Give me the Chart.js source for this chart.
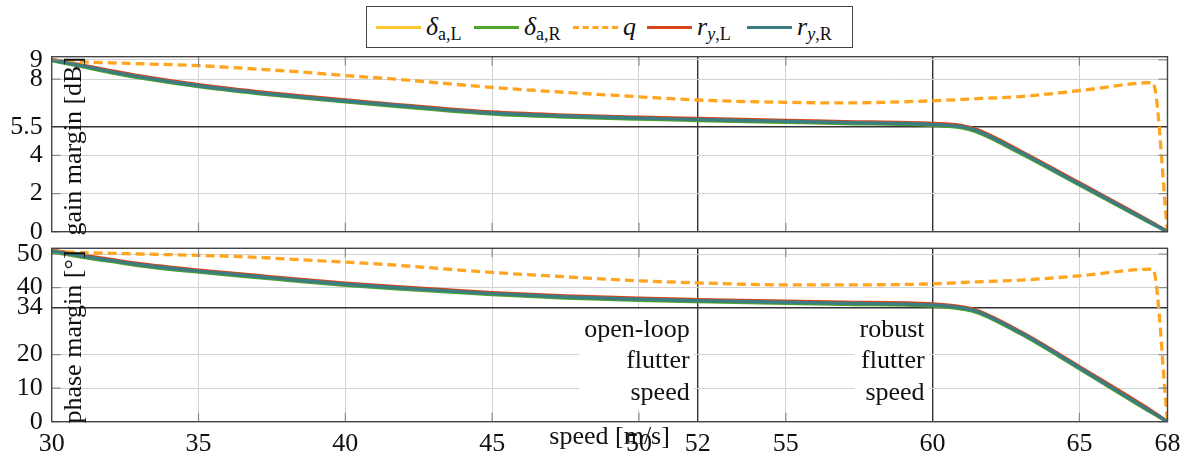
<!DOCTYPE html>
<html>
<head>
<meta charset="utf-8">
<script src="https://cdn.jsdelivr.net/npm/chart.js@4.4.1/dist/chart.umd.min.js"></script>
<style>
  body { margin: 0; background: #fff; }
  #wrap { position: relative; width: 1187px; height: 457px; overflow: hidden;
          font-family: 'Liberation Serif', 'DejaVu Serif', serif; color: #111; }
  #gainBox { position: absolute; left: 0; top: 0; width: 1187px; height: 250px; }
  #phaseBox { position: absolute; left: 0; top: 236px; width: 1187px; height: 221px; }
  #legend { position: absolute; left: 366px; top: 6px; width: 487px; height: 42px;
            border: 1px solid #444; background: #fff; display: flex; align-items: center;
            padding-left: 9px; box-sizing: border-box; font-size: 26px; z-index: 2; }
  #legend .key { display: flex; align-items: center; white-space: nowrap; }
  #legend .swatch { width: 45px; height: 0; border-top: 3px solid; margin-right: 5px; flex: none; }
  #legend .swatch.dash { border-top-style: dashed; }
  #legend sub { font-size: 18px; vertical-align: -5px; line-height: 0; }
</style>
</head>
<body>
<div id="wrap">
  <div id="legend"></div>
  <div id="gainBox"><canvas id="gain"></canvas></div>
  <div id="phaseBox"><canvas id="phase"></canvas></div>
</div>
<script>
// airspeed samples [m/s]
const speed = [30, 31, 32, 33, 35, 37, 38.5, 40, 41.5, 45, 47.5, 50, 52, 55, 57, 60, 61, 61.5, 63, 65, 67.5, 68];

// gain margin [dB] per loop-breaking point
const gainDaL = [8.99, 8.68, 8.37, 8.09, 7.63, 7.27, 7.04, 6.83, 6.63, 6.20, 6.04, 5.93, 5.86, 5.76, 5.70, 5.60, 5.48, 5.28, 4.14, 2.48, 0.41, 0.00];
const gainDaR = [8.97, 8.66, 8.34, 8.06, 7.60, 7.24, 7.01, 6.80, 6.60, 6.17, 6.01, 5.90, 5.83, 5.73, 5.67, 5.57, 5.44, 5.23, 4.10, 2.45, 0.39, 0.00];
const gainQ   = [9.00, 8.90, 8.85, 8.80, 8.70, 8.52, 8.37, 8.18, 8.02, 7.56, 7.30, 7.07, 6.90, 6.78, 6.75, 6.86, 6.93, 6.97, 7.08, 7.39, 7.81, 0.00];
const gainRyL = [9.03, 8.74, 8.44, 8.16, 7.70, 7.34, 7.11, 6.90, 6.70, 6.27, 6.11, 6.00, 5.93, 5.83, 5.77, 5.67, 5.56, 5.36, 4.22, 2.56, 0.46, 0.00];
const gainRyR = [9.00, 8.70, 8.39, 8.11, 7.65, 7.29, 7.06, 6.85, 6.65, 6.22, 6.06, 5.95, 5.88, 5.78, 5.72, 5.62, 5.50, 5.30, 4.16, 2.50, 0.42, 0.00];

// phase margin [deg]
const phaseDaL = [50.8, 49.3, 48.0, 46.7, 44.8, 43.2, 42.0, 40.9, 40.0, 38.1, 37.1, 36.4, 36.0, 35.5, 35.2, 34.7, 33.8, 32.8, 26.4, 16.0, 2.6, 0.0];
const phaseDaR = [50.6, 49.1, 47.8, 46.5, 44.6, 43.0, 41.8, 40.7, 39.8, 37.9, 36.9, 36.2, 35.8, 35.3, 35.0, 34.5, 33.6, 32.6, 26.2, 15.8, 2.5, 0.0];
const phaseQ   = [50.9, 50.4, 50.2, 50.0, 49.6, 49.0, 48.3, 47.6, 46.8, 44.5, 43.2, 42.0, 41.4, 40.8, 40.8, 41.1, 41.5, 41.7, 42.2, 43.5, 45.5, 0.0];
const phaseRyL = [51.2, 49.7, 48.4, 47.1, 45.2, 43.6, 42.4, 41.3, 40.4, 38.5, 37.5, 36.8, 36.4, 35.9, 35.6, 35.1, 34.2, 33.2, 26.8, 16.4, 3.0, 0.0];
const phaseRyR = [50.9, 49.4, 48.1, 46.8, 44.9, 43.3, 42.1, 41.0, 40.1, 38.2, 37.2, 36.5, 36.1, 35.6, 35.3, 34.8, 33.9, 32.9, 26.5, 16.1, 2.7, 0.0];

const speedTicks = [30, 35, 40, 45, 50, 52, 55, 60, 65, 68];
const gainTicks = [0, 2, 4, 5.5, 8, 9];
const phaseTicks = [0, 10, 20, 34, 40, 50];
const flutterSpeeds = [52, 60];
const gainReq = 5.5;
const phaseReq = 34;

const seriesLabels = ['<i>δ</i><sub>a,L</sub>', '<i>δ</i><sub>a,R</sub>', '<i>q</i>',
                      '<i>r</i><sub><i>y</i>,L</sub>', '<i>r</i><sub><i>y</i>,R</sub>'];
const seriesColors = ['#fcc62c', '#4fa529', '#ffa520', '#d8441b', '#3b7d81'];
const seriesDashed = [false, false, true, false, false];
const seriesOrder = [4, 3, 1, 2, 0];
const legendKeyWidths = [98, 99, 74, 100, 95];

Chart.defaults.font.family = "'Liberation Serif', 'DejaVu Serif', serif";
Chart.defaults.font.size = 26;
Chart.defaults.color = '#111';

// legend above both plots
document.getElementById('legend').innerHTML = seriesLabels.map((lbl, i) =>
  '<span class="key" style="width:' + legendKeyWidths[i] + 'px"><span class="swatch' +
  (seriesDashed[i] ? ' dash' : '') + '" style="border-top-color:' + seriesColors[i] +
  '"></span><span>' + lbl + '</span></span>'
).join('');

function makeSets(values) {
  return values.map((vals, i) => ({
    data: speed.map((s, k) => ({ x: s, y: vals[k] })),
    borderColor: seriesColors[i],
    borderWidth: seriesDashed[i] ? 3.3 : 3.4,
    borderDash: seriesDashed[i] ? [9, 5] : [],
    pointRadius: 0,
    cubicInterpolationMode: 'monotone',
    order: seriesOrder[i]
  }));
}

// frame, inner tick marks, rotated y title, notes
const decor = {
  id: 'decor',
  beforeDatasetsDraw(chart, args, opts) {
    const { ctx, scales } = chart;
    if (!opts.notes) return;
    ctx.save();
    ctx.font = "26px 'Liberation Serif'";
    ctx.textAlign = 'right';
    ctx.textBaseline = 'alphabetic';
    const yRef = scales.y.getPixelForValue(phaseReq);
    opts.notes.forEach(n => {
      const right = scales.x.getPixelForValue(n.at) - 8;
      const w = Math.max(...n.lines.map(t => ctx.measureText(t).width));
      ctx.fillStyle = '#fff';
      ctx.fillRect(right - w - 5, yRef + 1.5, w + 9, 101);
      ctx.fillStyle = '#111';
      n.lines.forEach((t, j) => ctx.fillText(t, right, yRef + 29 + j * 31.7));
    });
    ctx.restore();
  },
  afterDraw(chart, args, opts) {
    const { ctx, chartArea: a, scales } = chart;
    ctx.save();
    ctx.strokeStyle = '#8c8c8c';
    ctx.lineWidth = 1.2;
    ctx.beginPath();
    scales.x.ticks.forEach(t => {
      if (t.value <= 30 || t.value >= 68 || flutterSpeeds.includes(t.value)) return;
      const px = scales.x.getPixelForValue(t.value);
      ctx.moveTo(px, a.bottom); ctx.lineTo(px, a.bottom - 9);
      ctx.moveTo(px, a.top); ctx.lineTo(px, a.top + 9);
    });
    scales.y.ticks.forEach(t => {
      if (t.value === opts.req) return;
      const py = scales.y.getPixelForValue(t.value);
      ctx.moveTo(a.left, py); ctx.lineTo(a.left + 9, py);
      ctx.moveTo(a.right, py); ctx.lineTo(a.right - 9, py);
    });
    ctx.stroke();

    ctx.strokeStyle = '#444';
    ctx.lineWidth = 1.4;
    ctx.strokeRect(a.left, a.top, a.right - a.left, a.bottom - a.top);

    ctx.fillStyle = '#111';
    ctx.font = "26px 'Liberation Serif'";
    ctx.translate(a.left + 29, (a.top + a.bottom) / 2 + 2);
    ctx.rotate(-Math.PI / 2);
    ctx.textAlign = 'center';
    ctx.textBaseline = 'alphabetic';
    ctx.fillText(opts.yTitle, 0, 0);
    ctx.restore();

    if (opts.xTitle) {
      ctx.save();
      ctx.fillStyle = '#111';
      ctx.font = "26px 'Liberation Serif'";
      ctx.textAlign = 'center';
      ctx.textBaseline = 'alphabetic';
      ctx.fillText(opts.xTitle, (a.left + a.right) / 2, a.bottom + 22.3);
      ctx.restore();
    }
  }
};

function gridColor(marks) {
  return c => (c.tick && marks.includes(c.tick.value)) ? '#333' : '#d2d2d2';
}
function gridWidth(marks) {
  return c => (c.tick && marks.includes(c.tick.value)) ? 1.4 : 1;
}

function makeChart(id, values, yMax, yTicks, req, showX, padTop, xHeight, extra) {
  return new Chart(document.getElementById(id), {
    type: 'line',
    data: { datasets: makeSets(values) },
    plugins: [decor],
    options: {
      responsive: true,
      maintainAspectRatio: false,
      animation: false,
      layout: { padding: { left: 0, right: 19.5, top: padTop, bottom: 0 } },
      plugins: {
        legend: { display: false },
        tooltip: { enabled: false },
        decor: Object.assign({ req: req }, extra)
      },
      scales: {
        x: {
          type: 'linear', min: 30, max: 68,
          afterBuildTicks: s => { s.ticks = speedTicks.map(v => ({ value: v })); },
          afterFit: s => { s.height = xHeight; s.paddingLeft = 0; s.paddingRight = 0; },
          grid: { color: gridColor(flutterSpeeds), lineWidth: gridWidth(flutterSpeeds), drawTicks: false },
          border: { display: false },
          ticks: { display: showX, padding: 7, maxRotation: 0, autoSkip: false, callback: v => String(v) }
        },
        y: {
          min: 0, max: yMax,
          afterBuildTicks: s => { s.ticks = yTicks.map(v => ({ value: v })); },
          afterFit: s => { s.width = 51.7; s.paddingTop = 0; s.paddingBottom = 0; },
          grid: { color: gridColor([req]), lineWidth: gridWidth([req]), drawTicks: false },
          border: { display: false },
          ticks: { padding: 9, autoSkip: false, callback: v => String(v) }
        }
      }
    }
  });
}

makeChart('gain', [gainDaL, gainDaR, gainQ, gainRyL, gainRyR], 9.17, gainTicks, gainReq,
  false, 56.7, 18.3, { yTitle: 'gain margin [dB]' });

makeChart('phase', [phaseDaL, phaseDaR, phaseQ, phaseRyL, phaseRyR], 51.7, phaseTicks, phaseReq,
  true, 12.3, 35.3, {
    yTitle: 'phase margin [°]',
    xTitle: 'speed [m/s]',
    notes: [
      { at: 52, lines: ['open-loop', 'flutter', 'speed'] },
      { at: 60, lines: ['robust', 'flutter', 'speed'] }
    ]
  });
</script>
</body>
</html>
